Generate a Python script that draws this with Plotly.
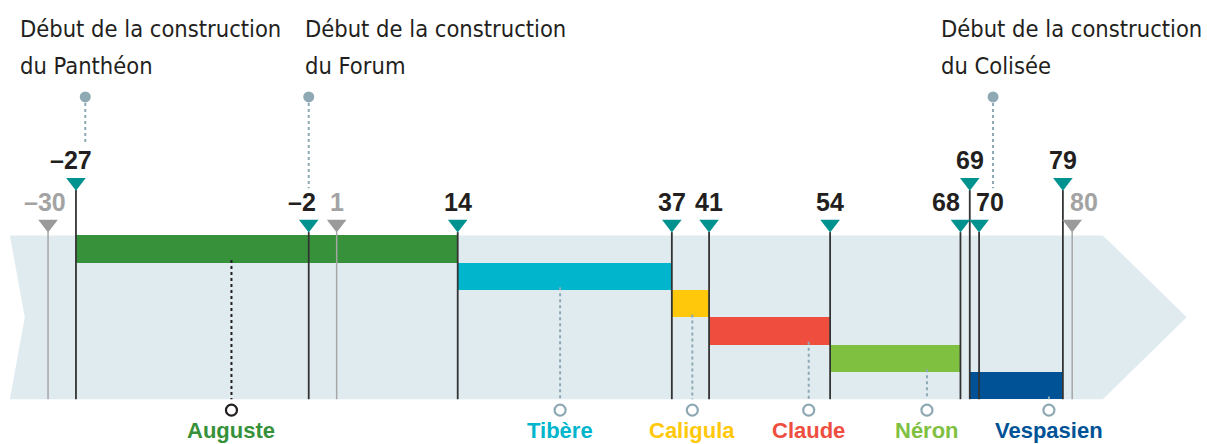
import plotly.graph_objects as go

# ---- data ----
emperors = ["Auguste", "Tibère", "Caligula", "Claude", "Néron", "Vespasien"]
reign_start = [-27, 14, 37, 41, 54, 69]
reign_end = [14, 37, 41, 54, 68, 79]
emperor_colors = ["#36913a", "#00b5cc", "#ffc80a", "#ef4e3f", "#80c041", "#005296"]
label_years = [-10.3, 25, 39.2, 51.7, 64.4, 77.5]

teal_years = [-27, -2, 14, 37, 41, 54, 68, 69, 70, 79]
raised_years = [-27, 69, 79]
grey_years = [-30, 1, 80]

event_line1 = ["Début de la construction"] * 3
event_line2 = ["du Panthéon", "du Forum", "du Colisée"]
event_years = [-26, -2, 71.5]
event_text_left = [0.015, 0.251, 0.778]

# label nudges (pixels) for crowded year labels
label_shift = {-30: -3, -27: -5, -2: -7, 68: -14, 70: 11, 80: 12}

# ---- style ----
TEAL = "#00928f"
GREY = "#9a9a9b"
DARK = "#231f20"
CONN = "#8ea9b4"
BAND = "#e0ebf0"

def fmt(y):
    return f"–{abs(y)}" if y < 0 else str(y)

fig = go.Figure()

# background arrow band (below all traces)
fig.add_shape(type="path", xref="x", yref="y", layer="below",
              path="M -34.1 -0.5 L 83.3 -0.5 L 92.3 2.5 L 83.3 5.5 L -34.1 5.5 L -32.5 2.5 Z",
              fillcolor=BAND, line=dict(width=0))

# reign bars
fig.add_trace(go.Bar(
    y=list(range(len(emperors))),
    x=[e - s for s, e in zip(reign_start, reign_end)],
    base=reign_start, orientation="h", width=1.0,
    marker=dict(color=emperor_colors, line=dict(width=0)),
    hoverinfo="skip", showlegend=False))

# vertical year lines
def vlines(years, top_of, color, width):
    xs, ys = [], []
    for y in years:
        xs += [y, y, None]
        ys += [top_of(y), 5.5, None]
    fig.add_trace(go.Scatter(x=xs, y=ys, mode="lines",
                             line=dict(color=color, width=width),
                             hoverinfo="skip", showlegend=False))

vlines(grey_years, lambda y: -0.62, "#a6a6a6", 1.5)
vlines(teal_years, lambda y: -2.16 if y in raised_years else -0.62, "#333333", 1.8)

# triangles
fig.add_trace(go.Scatter(
    x=teal_years, y=[-2.45 if y in raised_years else -0.92 for y in teal_years],
    mode="markers",
    marker=dict(symbol="triangle-down", size=17, color=TEAL, line=dict(width=0)),
    hoverinfo="skip", showlegend=False))
fig.add_trace(go.Scatter(
    x=grey_years, y=[-0.92] * len(grey_years), mode="markers",
    marker=dict(symbol="triangle-down", size=17, color=GREY, line=dict(width=0)),
    hoverinfo="skip", showlegend=False))

# year labels
for y in teal_years + grey_years:
    fig.add_annotation(
        x=y, y=-3.26 if y in raised_years else -1.72, xref="x", yref="y",
        text=fmt(y), showarrow=False, xshift=label_shift.get(y, 0),
        font=dict(family="Liberation Sans", size=25, weight="bold",
                  color="#a3a3a4" if y in grey_years else DARK))

# emperor connectors, circles, names
for i, (name, lx, col) in enumerate(zip(emperors, label_years, emperor_colors)):
    c = DARK if i == 0 else CONN
    fig.add_trace(go.Scatter(
        x=[lx, lx], y=[i + 0.4, 5.5], mode="lines",
        line=dict(color=c, width=2, dash="dot"),
        hoverinfo="skip", showlegend=False))
    fig.add_trace(go.Scatter(
        x=[lx], y=[5.9], mode="markers",
        marker=dict(symbol="circle", size=11, color="white", line=dict(color=c, width=2.2)),
        hoverinfo="skip", showlegend=False))
    fig.add_annotation(
        x=lx, y=6.66, xref="x", yref="y", text=name, showarrow=False,
        font=dict(family="Liberation Sans", size=22, color=col, weight="bold"))

# events
for l1, l2, ey, tx in zip(event_line1, event_line2, event_years, event_text_left):
    bottom = -3.88 if ey < -20 else -2.23
    fig.add_trace(go.Scatter(
        x=[ey, ey], y=[-5.57, bottom], mode="lines",
        line=dict(color=CONN, width=2, dash="dot"),
        hoverinfo="skip", showlegend=False))
    fig.add_trace(go.Scatter(
        x=[ey], y=[-5.57], mode="markers",
        marker=dict(symbol="circle", size=11, color=CONN, line=dict(width=0)),
        hoverinfo="skip", showlegend=False))
    for txt, py in ((l1, 0.935), (l2, 0.851)):
        fig.add_annotation(
            x=tx, y=py, xref="paper", yref="paper", xanchor="left", yanchor="middle",
            text=txt, showarrow=False, align="left",
            font=dict(family="DejaVu Sans Condensed", size=23.5, color=DARK))

fig.update_layout(
    width=1207, height=444, margin=dict(l=0, r=0, t=0, b=0),
    plot_bgcolor="white", paper_bgcolor="white",
    xaxis=dict(range=[-35.16, 94.48], visible=False),
    yaxis=dict(range=[7.14, -9.12], visible=False),
    bargap=0, showlegend=False)

fig.write_html("out.html", config={"displayModeBar": False},
               post_script="document.body.style.margin='0';document.body.style.padding='0';")
